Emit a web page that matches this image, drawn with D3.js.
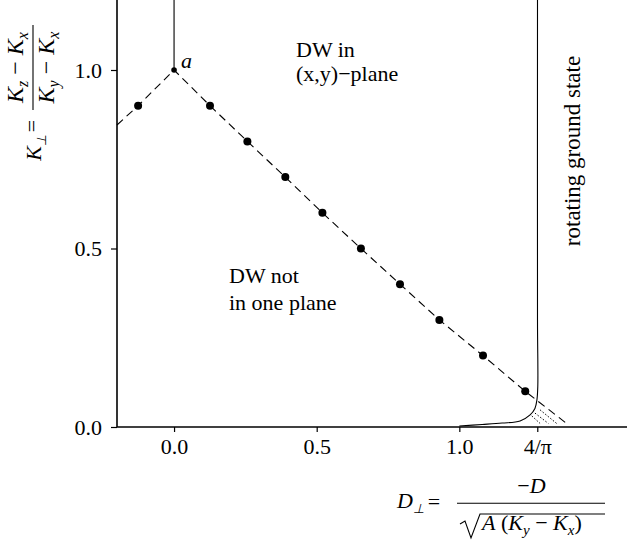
<!DOCTYPE html>
<html><head><meta charset="utf-8">
<script src="https://cdn.jsdelivr.net/npm/d3@7"></script>
<style>body{margin:0;background:#fff}svg{display:block}text{font-family:"Liberation Serif","Times New Roman",serif;fill:#000}</style>
</head><body><svg id="c" width="627" height="542"></svg>
<script>
// ---- data ----
const xTickValues = [0, 0.5, 1.0, 4/Math.PI];
const xTickLabels = ["0.0", "0.5", "1.0", "4/π"];
const yTickValues = [0, 0.5, 1.0];
const yTickLabels = ["0.0", "0.5", "1.0"];
const dotsX = [-0.126, 0.126, 0.257, 0.390, 0.520, 0.655, 0.792, 0.930, 1.083, 1.231];
const dotsY = [0.9, 0.9, 0.8, 0.7, 0.6, 0.5, 0.4, 0.3, 0.2, 0.1];
const dashX = [-0.2, -0.126, 0, 0.126, 0.257, 0.390, 0.520, 0.655, 0.792, 0.930, 1.083, 1.231, 1.376];
const dashY = [0.846, 0.9, 1.0, 0.9, 0.8, 0.7, 0.6, 0.5, 0.4, 0.3, 0.2, 0.1, 0.01];
const boundaryX = [1.0, 1.08, 1.15, 1.213, 1.248, 1.265, 1.272, 1.275, 1.274, 1.274];
const boundaryY = [0.003, 0.007, 0.011, 0.017, 0.034, 0.052, 0.076, 0.113, 0.3, 1.2];
const axisLineX = [0, 0];
const axisLineY = [1.0, 1.2];
const dotted1X = [1.254, 1.283], dotted1Y = [0.031, 0.010];
const dotted2X = [1.265, 1.312], dotted2Y = [0.039, 0.010];
const dotted3X = [1.283, 1.341], dotted3Y = [0.048, 0.010];
const pointA = [0, 1.0];

const svg = d3.select("#c");
const x = d3.scaleLinear().domain([-0.2, 1.6]).range([117, 630.5]);
const y = d3.scaleLinear().domain([0, 1.2]).range([427, -1.4]);
const zip = (a, b) => a.map((v, i) => [v, b[i]]);
const line = d3.line().x(d => x(d[0])).y(d => y(d[1]));

// axes
const xAxis = d3.axisBottom(x).tickValues(xTickValues).tickSize(5).tickPadding(6)
  .tickFormat((d, i) => xTickLabels[i]);
const gx = svg.append("g").attr("transform", `translate(0,${y(0)})`).call(xAxis);
const yAxis = d3.axisLeft(y).tickValues(yTickValues).tickSize(6).tickPadding(9)
  .tickFormat((d, i) => yTickLabels[i]);
const gy = svg.append("g").attr("transform", `translate(${x(-0.2)},0)`).call(yAxis);
[gx, gy].forEach(g => {
  g.select(".domain").attr("stroke", "#000").attr("stroke-width", 1.6);
  g.selectAll(".tick line").attr("stroke", "#000").attr("stroke-width", 1.2);
  g.selectAll(".tick text").attr("font-size", 22).attr("font-family", '"Liberation Serif","Times New Roman",serif').attr("fill", "#000");
});
gx.select(".domain").attr("d", `M${x(-0.2)},0H627`);
gy.select(".domain").attr("d", `M0,${y(0)}V0`);

// dashed line
svg.append("path").datum(zip(dashX, dashY)).attr("d", line)
  .attr("fill", "none").attr("stroke", "#000").attr("stroke-width", 1.1).attr("stroke-dasharray", "8,5");
// dotted lines
[[dotted1X, dotted1Y], [dotted2X, dotted2Y], [dotted3X, dotted3Y]].forEach(([a, b]) => {
  svg.append("path").datum(zip(a, b)).attr("d", line)
    .attr("fill", "none").attr("stroke", "#000").attr("stroke-width", 1).attr("stroke-dasharray", "1.5,1.8");
});
// solid lines
svg.append("path").datum(zip(boundaryX, boundaryY)).attr("d", d3.line().x(d => x(d[0])).y(d => y(d[1])).curve(d3.curveCatmullRom.alpha(0.5)))
  .attr("fill", "none").attr("stroke", "#000").attr("stroke-width", 1.1);
svg.append("path").datum(zip(axisLineX, axisLineY)).attr("d", line)
  .attr("fill", "none").attr("stroke", "#000").attr("stroke-width", 1.1);
// dots
svg.selectAll("circle.dot").data(zip(dotsX, dotsY)).enter().append("circle")
  .attr("cx", d => x(d[0])).attr("cy", d => y(d[1])).attr("r", 4).attr("fill", "#000");
svg.append("circle").attr("cx", x(pointA[0])).attr("cy", y(pointA[1])).attr("r", 2.8).attr("fill", "#000");

// annotations
const T = (px, py, s, opts = {}) => {
  const t = svg.append("text").attr("x", px).attr("y", py).attr("font-size", opts.size || 22).text(s);
  if (opts.italic) t.attr("font-style", "italic");
  if (opts.anchor) t.attr("text-anchor", opts.anchor);
  return t;
};
T(181, 68, "a", {italic: true});
T(296, 57, "DW in");
T(296, 81, "(x,y)−plane");
T(229, 283, "DW not");
T(229, 310, "in one plane");
svg.append("text").attr("transform", "translate(580,151) rotate(-90)").attr("text-anchor", "middle")
  .attr("font-size", 23).text("rotating ground state");

// helper: symbol with subscript
function kSub(text, base, sub, subSize) {
  text.append("tspan").attr("font-style", "italic").text(base);
  text.append("tspan").attr("font-style", "italic").attr("font-size", subSize || 15).attr("dy", 5).text(sub);
}
// y-axis label (rotated)
const yl = svg.append("g").attr("transform", "translate(33,110) rotate(-90)");
yl.append("line").attr("x1", 0).attr("x2", 85).attr("y1", 0).attr("y2", 0).attr("stroke", "#000").attr("stroke-width", 1.1);
let t1 = yl.append("text").attr("x", 42.5).attr("y", -10).attr("text-anchor", "middle").attr("font-size", 24);
kSub(t1, "K", "z", 16); t1.append("tspan").attr("dy", -5).text(" − "); kSub(t1, "K", "x", 16);
let t2 = yl.append("text").attr("x", 42.5).attr("y", 21).attr("text-anchor", "middle").attr("font-size", 24);
kSub(t2, "K", "y", 16); t2.append("tspan").attr("dy", -5).text(" − "); kSub(t2, "K", "x", 16);
yl.append("text").attr("x", -16).attr("y", 6).attr("text-anchor", "middle").attr("font-size", 22).text("=");
let t3 = yl.append("text").attr("x", -25).attr("y", 8).attr("text-anchor", "end").attr("font-size", 22);
kSub(t3, "K", "⊥", 13);

// x-axis label
let t4 = svg.append("text").attr("x", 397).attr("y", 508).attr("font-size", 22);
kSub(t4, "D", "⊥", 13);
T(434, 509, "=", {anchor: "middle"});
svg.append("line").attr("x1", 457).attr("x2", 605).attr("y1", 503.3).attr("y2", 503.3).attr("stroke", "#000").attr("stroke-width", 1.1);
let t5 = svg.append("text").attr("x", 531.5).attr("y", 493).attr("text-anchor", "middle").attr("font-size", 22);
t5.append("tspan").text("−"); t5.append("tspan").attr("font-style", "italic").text("D");
svg.append("path").attr("d", "M460,524 L465,521 L471,538 L480,514 L605,514").attr("fill", "none").attr("stroke", "#000").attr("stroke-width", 1.1);
let t6 = svg.append("text").attr("x", 482).attr("y", 530).attr("font-size", 22);
t6.append("tspan").attr("font-style", "italic").text("A");
t6.append("tspan").text(" (");
kSub(t6, "K", "y"); t6.append("tspan").attr("dy", -5).text(" − "); kSub(t6, "K", "x");
t6.append("tspan").attr("dy", -5).text(")");
</script></body></html>
